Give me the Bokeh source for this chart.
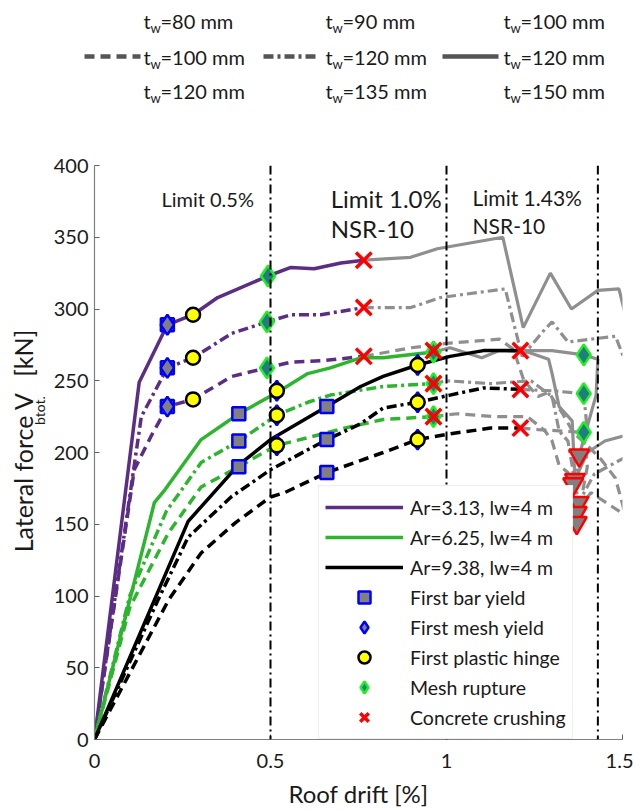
import numpy as np
from bokeh.plotting import figure
from bokeh.models import Range1d, FixedTicker, Label, Legend, LegendItem, Span, ColumnDataSource
from bokeh.layouts import column, row
from bokeh.embed import file_html
from bokeh.resources import INLINE
from bokeh.core.properties import value

FONT = "Lato"

# ---------------- data ----------------
# top legend: wall thickness per line style (rows: Ar=3.13, 6.25, 9.38)
tw_dashed = ["80", "100", "120"]
tw_dashdot = ["90", "120", "135"]
tw_solid = ["100", "120", "150"]

limits = [0.5, 1.0, 1.43]

# Ar=3.13 (purple)
p_solid_x = [0, 0.127, 0.207, 0.28, 0.35, 0.493, 0.558, 0.624, 0.70, 0.765]
p_solid_y = [0, 249, 289, 296, 308, 323, 329, 328, 332, 334]
p_solid_gx = [0.765, 0.898, 0.974, 1.16, 1.218, 1.295, 1.355, 1.43, 1.49, 1.51]
p_solid_gy = [334, 336, 342, 350, 287, 325, 300, 313, 314, 294]

p_dd_x = [0, 0.133, 0.207, 0.28, 0.39, 0.49, 0.558, 0.643, 0.765]
p_dd_y = [0, 225, 259, 266, 283, 291, 296, 296, 301]
p_dd_gx = [0.765, 0.898, 0.983, 1.167, 1.19, 1.215, 1.28, 1.30, 1.345, 1.41, 1.48, 1.51]
p_dd_gy = [301, 301, 308, 314, 291, 267, 286, 291, 277, 279, 281, 262]

p_da_x = [0, 0.113, 0.16, 0.207, 0.28, 0.39, 0.49, 0.558, 0.65, 0.765]
p_da_y = [0, 188, 211, 232, 237, 253, 259, 263, 264, 267]
p_da_gx = [0.765, 0.9, 1.0, 1.15, 1.19, 1.22, 1.26, 1.29, 1.33, 1.36, 1.40, 1.44, 1.48, 1.51]
p_da_gy = [267, 273, 276, 279, 272, 250, 239, 242, 227, 214, 205, 195, 182, 155]

# Ar=6.25 (green)
g_solid_x = [0, 0.17, 0.2, 0.303, 0.41, 0.52, 0.606, 0.67, 0.756, 0.82, 0.963]
g_solid_y = [0, 165, 174, 209, 227, 242, 255, 259, 266, 266, 270]
g_solid_gx = [0.963, 1.01, 1.1, 1.15, 1.23, 1.29, 1.30, 1.32, 1.357, 1.365, 1.40, 1.45, 1.51]
g_solid_gy = [270, 273, 266, 271, 270, 265, 255, 232, 222, 181, 200, 208, 212]

g_dd_x = [0, 0.1, 0.204, 0.303, 0.41, 0.518, 0.606, 0.67, 0.82, 0.963]
g_dd_y = [0, 100, 159, 193, 208, 226, 235, 240, 246, 248]
g_dd_gx = [0.963, 1.0, 1.125, 1.24, 1.30, 1.32, 1.345, 1.375, 1.42, 1.51]
g_dd_gy = [248, 250, 248, 250, 239, 215, 208, 165, 185, 197]

g_da_x = [0, 0.1, 0.21, 0.303, 0.41, 0.48, 0.52, 0.728, 0.82, 0.963]
g_da_y = [0, 92, 144, 176, 190, 200, 205, 218, 223, 225]
g_da_gx = [0.963, 1.03, 1.136, 1.23, 1.28, 1.30, 1.32, 1.345, 1.37, 1.41, 1.51]
g_da_gy = [225, 227, 225, 225, 215, 208, 191, 186, 158, 172, 156]

# Ar=9.38 (black)
k_solid_x = [0, 0.266, 0.408, 0.50, 0.66, 0.756, 0.82, 0.918, 1.01, 1.105, 1.21]
k_solid_y = [0, 152, 191, 209, 232, 246, 253, 261, 267, 271, 271]
k_solid_gx = [1.21, 1.30, 1.39, 1.43, 1.425, 1.377]
k_solid_gy = [271, 271, 268, 265, 240, 198]

k_dd_x = [0, 0.18, 0.266, 0.388, 0.50, 0.66, 0.756, 0.82, 0.918, 1.01, 1.105, 1.21]
k_dd_y = [0, 97, 141, 169, 188, 209, 220, 231, 235, 240, 245, 244]
k_dd_gx = [1.21, 1.30, 1.39, 1.40, 1.36]
k_dd_gy = [244, 243, 241, 215, 178]

k_da_x = [0, 0.21, 0.303, 0.40, 0.50, 0.54, 0.66, 0.82, 0.918, 1.01, 1.125, 1.21]
k_da_y = [0, 97, 130, 151, 169, 172, 186, 200, 209, 213, 217, 217]
k_da_gx = [1.21, 1.26, 1.39, 1.40, 1.37]
k_da_gy = [217, 216, 214, 190, 151]

# events
bar_yield_x = [0.207, 0.207, 0.207, 0.41, 0.41, 0.41, 0.66, 0.66, 0.66]
bar_yield_y = [289, 259, 232, 227, 208, 190, 232, 209, 186]
mesh_yield_x = [0.207, 0.207, 0.207, 0.518, 0.518, 0.518, 0.918, 0.918, 0.918]
mesh_yield_y = [289, 259, 232, 243, 226, 205, 261, 235, 209]
hinge_x = [0.28, 0.28, 0.28, 0.518, 0.518, 0.518, 0.918, 0.918, 0.918]
hinge_y = [296, 266, 237, 243, 226, 205, 261, 235, 209]
rupture_x = [0.493, 0.49, 0.49, 0.963, 0.963, 0.963, 1.39, 1.39, 1.39]
rupture_y = [323, 291, 259, 270, 248, 225, 268, 241, 214]
crush_x = [0.765, 0.765, 0.765, 0.963, 0.963, 0.963, 1.21, 1.21, 1.21]
crush_y = [334, 301, 267, 271, 248, 225, 271, 244, 217]
fail_x = [1.377, 1.365, 1.36, 1.375, 1.37, 1.37]
fail_y = [198, 181, 178, 165, 158, 151]

x_ticks = [0, 0.5, 1, 1.5]
x_tick_labels = ["0", "0.5", "1", "1.5"]
y_ticks = [0, 50, 100, 150, 200, 250, 300, 350, 400]

# ---------------- styles ----------------
PURPLE = "#5C2D85"
GREEN = "#2EB52E"
BLACK = "#000000"
GRAY = "#8F8F8F"
TXT = "#1A1A1A"
DASH = "10 6"
DASHDOT = "10 4 3 4"
LW = 3.5

# ---------------- top legend ----------------
top = figure(width=633, height=120, x_range=Range1d(0, 633), y_range=Range1d(120, 0),
             output_backend="svg", toolbar_location=None, min_border=0,
             x_axis_location=None, y_axis_location=None)
top.grid.visible = False
top.outline_line_color = None

col_x = [143, 325, 503]
row_y = [20, 56, 90]
for cx, vals in zip(col_x, [tw_dashed, tw_dashdot, tw_solid]):
    src_t = ColumnDataSource(dict(x=[cx] * 3, y=row_y, t=["t"] * 3))
    src_w = ColumnDataSource(dict(x=[cx + 7] * 3, y=[r + 7 for r in row_y], t=["w"] * 3))
    src_r = ColumnDataSource(dict(x=[cx + 17] * 3, y=row_y, t=["=" + v + " mm" for v in vals]))
    top.text(x="x", y="y", text="t", source=src_t, text_font=value(FONT), text_font_size="20px",
             text_baseline="middle", text_color=TXT)
    top.text(x="x", y="y", text="t", source=src_w, text_font=value(FONT), text_font_size="13px",
             text_baseline="middle", text_color=TXT)
    top.text(x="x", y="y", text="t", source=src_r, text_font=value(FONT), text_font_size="20px",
             text_baseline="middle", text_color=TXT)

sample_x0 = [84, 263, 442]
for sx, dash in zip(sample_x0, [DASH, DASHDOT, "solid"]):
    top.line([sx, sx + 56], [row_y[1], row_y[1]], line_color="#555555", line_width=4.5,
             line_dash=dash)

# ---------------- y label panel ----------------
ylab = figure(width=50, height=690, x_range=Range1d(0, 50), y_range=Range1d(690, 0),
              output_backend="svg", toolbar_location=None, min_border=0,
              x_axis_location=None, y_axis_location=None)
ylab.grid.visible = False
ylab.outline_line_color = None
# canvas y minus 120 (height of the top legend strip)
ylab.text(x=[22], y=[465], text=["Lateral force V"], angle=np.pi / 2, text_align="left",
          text_baseline="middle", text_font=value(FONT), text_font_size="25px", text_color=TXT)
ylab.text(x=[39], y=[312], text=["btot."], angle=np.pi / 2, text_align="left",
          text_baseline="middle", text_font=value(FONT), text_font_size="14px", text_color=TXT)
ylab.text(x=[22], y=[254], text=["[kN]"], angle=np.pi / 2, text_align="left",
          text_baseline="middle", text_font=value(FONT), text_font_size="25px", text_color=TXT)

# ---------------- main plot ----------------
p = figure(width=583, height=690, x_range=Range1d(0, 1.5), y_range=Range1d(0, 400),
           output_backend="svg", toolbar_location=None,
           min_border_left=43, min_border_right=11, min_border_top=45, min_border_bottom=70)
p.grid.visible = False
p.outline_line_color = None

for lim in limits:
    p.add_layout(Span(location=lim, dimension="height", line_color="black",
                      line_width=2, line_dash="9 4 2 4"))

gray_sets = [(p_solid_gx, p_solid_gy, "solid"), (p_dd_gx, p_dd_gy, DASHDOT), (p_da_gx, p_da_gy, DASH),
             (g_solid_gx, g_solid_gy, "solid"), (g_dd_gx, g_dd_gy, DASHDOT), (g_da_gx, g_da_gy, DASH),
             (k_solid_gx, k_solid_gy, "solid"), (k_dd_gx, k_dd_gy, DASHDOT), (k_da_gx, k_da_gy, DASH)]
for gx, gy, dash in gray_sets:
    p.line(gx, gy, line_color=GRAY, line_width=3.2, line_dash=dash)

main_renderers = {}
for name, color, sets in [("p", PURPLE, [(p_solid_x, p_solid_y, "solid"), (p_dd_x, p_dd_y, DASHDOT), (p_da_x, p_da_y, DASH)]),
                          ("g", GREEN, [(g_solid_x, g_solid_y, "solid"), (g_dd_x, g_dd_y, DASHDOT), (g_da_x, g_da_y, DASH)]),
                          ("k", BLACK, [(k_solid_x, k_solid_y, "solid"), (k_dd_x, k_dd_y, DASHDOT), (k_da_x, k_da_y, DASH)])]:
    for i, (xs, ys, dash) in enumerate(sets):
        r = p.line(xs, ys, line_color=color, line_width=LW, line_dash=dash)
        if i == 0:
            main_renderers[name] = r

r_bar = p.scatter(bar_yield_x, bar_yield_y, marker="square", size=13, fill_color="#808080",
                  line_color="#0000FF", line_width=2.5)
r_mesh = p.scatter(mesh_yield_x, mesh_yield_y, marker="diamond", size=20, fill_color="#808080",
                   line_color="#0000FF", line_width=2.5)
r_hinge = p.scatter(hinge_x, hinge_y, marker="circle", size=14, fill_color="#FFFF00",
                    line_color="black", line_width=2.5)
r_rupt = p.scatter(rupture_x, rupture_y, marker="diamond", size=21, fill_color="#1F7F7F",
                   line_color="#22EE22", line_width=2.5)
r_crush = p.scatter(crush_x, crush_y, marker="x", size=22, line_color="#FF0000", line_width=3.5)
r_fail = p.scatter(fail_x, fail_y, marker="inverted_triangle", size=20, fill_color="#808080",
                   line_color="#FF0000", line_width=2.5)

# annotations of the limits
p.add_layout(Label(x=limits[0] - 0.31, y=377, text="Limit 0.5%", text_font=FONT,
                   text_font_size="20px", text_baseline="middle", text_color=TXT))
p.add_layout(Label(x=limits[1] - 0.329, y=377, text="Limit 1.0%", text_font=FONT,
                   text_font_size="24px", text_baseline="middle", text_color=TXT))
p.add_layout(Label(x=limits[1] - 0.329, y=356, text="NSR-10", text_font=FONT,
                   text_font_size="24px", text_baseline="middle", text_color=TXT))
p.add_layout(Label(x=limits[1] + 0.074, y=378, text="Limit 1.43%", text_font=FONT,
                   text_font_size="21px", text_baseline="middle", text_color=TXT))
p.add_layout(Label(x=limits[1] + 0.074, y=358, text="NSR-10", text_font=FONT,
                   text_font_size="21px", text_baseline="middle", text_color=TXT))

# axes
for ax in (p.xaxis[0], p.yaxis[0]):
    ax.axis_line_color = "#808080"
    ax.major_tick_line_color = "#606060"
    ax.minor_tick_line_color = None
    ax.major_tick_in = 5
    ax.major_tick_out = 0
    ax.major_label_text_font = FONT
    ax.major_label_text_font_size = "20px"
    ax.major_label_text_color = TXT
    ax.axis_line_width = 1.2

p.xaxis.ticker = FixedTicker(ticks=x_ticks)
p.xaxis.major_label_overrides = {t: l for t, l in zip(x_ticks, x_tick_labels)}
p.xaxis.major_label_standoff = 14
p.xaxis.axis_label = "Roof drift [%]"
p.xaxis.axis_label_text_font = FONT
p.xaxis.axis_label_text_font_size = "24px"
p.xaxis.axis_label_text_font_style = "normal"
p.xaxis.axis_label_text_color = TXT
p.xaxis.axis_label_standoff = 8
p.yaxis.ticker = FixedTicker(ticks=y_ticks)
p.yaxis.major_label_standoff = 6

legend = Legend(items=[
    LegendItem(label="Ar=3.13, lw=4 m", renderers=[main_renderers["p"]]),
    LegendItem(label="Ar=6.25, lw=4 m", renderers=[main_renderers["g"]]),
    LegendItem(label="Ar=9.38, lw=4 m", renderers=[main_renderers["k"]]),
    LegendItem(label="First bar yield", renderers=[r_bar]),
    LegendItem(label="First mesh yield", renderers=[r_mesh]),
    LegendItem(label="First plastic hinge", renderers=[r_hinge]),
    LegendItem(label="Mesh rupture", renderers=[r_rupt]),
    LegendItem(label="Concrete crushing", renderers=[r_crush]),
], location=(224, 0))
legend.label_text_font = FONT
legend.label_text_font_size = "19.5px"
legend.label_text_color = TXT
legend.glyph_width = 78
legend.glyph_height = 30
legend.label_height = 30
legend.label_standoff = 7
legend.padding = 6
legend.spacing = 0
legend.margin = 0
legend.border_line_color = "#E0E0E0"
legend.background_fill_alpha = 1
p.add_layout(legend)

layout = column(top, row(ylab, p, spacing=0), spacing=0)
open("out.html", "w").write(file_html(layout, INLINE))
